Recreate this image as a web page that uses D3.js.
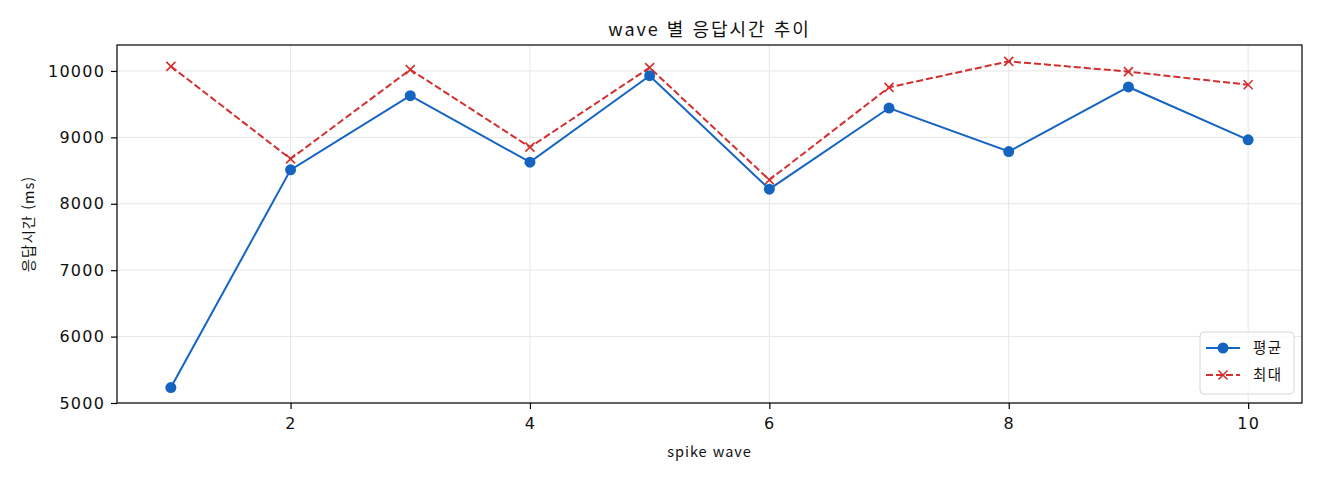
<!DOCTYPE html>
<html lang="ko">
  <head>
    <meta charset="UTF-8" />
    <title>wave 별 응답시간 추이</title>
    <script src="https://cdn.jsdelivr.net/npm/d3@7"></script>
    <style>
      html,
      body {
        margin: 0;
        padding: 0;
        background: #fff;
      }
      svg {
        display: block;
        font-family: 'Noto Sans CJK KR', 'Noto Sans', sans-serif;
      }
    </style>
  </head>
  <body>
    <svg width="1320" height="480"></svg>
    <script>
      // data
      const waves = [1, 2, 3, 4, 5, 6, 7, 8, 9, 10];
      const avgMs = [5232, 8511, 9627, 8627, 9929, 8220, 9442, 8787, 9759, 8963];
      const maxMs = [10070, 8677, 10020, 8853, 10050, 8360, 9753, 10145, 9990, 9793];
      const xTicks = [2, 4, 6, 8, 10];
      const yTicks = [5000, 6000, 7000, 8000, 9000, 10000];
      const seriesNames = ['평균', '최대'];

      const blue = '#1565c0';
      const red = '#d32f2f';
      const tickFont = "'DejaVu Sans', sans-serif";

      const margin = { top: 45, right: 18, bottom: 77, left: 117 };
      const width = 1320 - margin.left - margin.right;
      const height = 480 - margin.top - margin.bottom;

      const svg = d3.select('svg');
      const g = svg
        .append('g')
        .attr('transform', `translate(${margin.left},${margin.top})`);

      const x = d3.scaleLinear().domain([0.55, 10.45]).range([0, width]);
      const y = d3.scaleLinear().domain([5000, 10391]).range([height, 0]);

      // grid
      g.append('g')
        .selectAll('line')
        .data(xTicks)
        .enter()
        .append('line')
        .attr('x1', d => x(d))
        .attr('x2', d => x(d))
        .attr('y1', 0)
        .attr('y2', height)
        .attr('stroke', '#e6e6e6')
        .attr('stroke-width', 1);

      g.append('g')
        .selectAll('line')
        .data(yTicks)
        .enter()
        .append('line')
        .attr('x1', 0)
        .attr('x2', width)
        .attr('y1', d => y(d))
        .attr('y2', d => y(d))
        .attr('stroke', '#e6e6e6')
        .attr('stroke-width', 1);

      // axes
      const xAxis = d3.axisBottom(x).tickValues(xTicks).tickSize(6).tickPadding(9);
      const yAxis = d3
        .axisLeft(y)
        .tickValues(yTicks)
        .tickSize(6)
        .tickPadding(7)
        .tickFormat(d3.format('d'));

      const xg = g.append('g').attr('transform', `translate(0,${height})`).call(xAxis);
      const yg = g.append('g').call(yAxis);
      [xg, yg].forEach(a => {
        a.select('.domain').remove();
        a.selectAll('.tick line').attr('stroke', '#000').attr('stroke-width', 1.2);
        a.selectAll('.tick text')
          .attr('fill', '#111')
          .style('font-size', '16px')
          .style('letter-spacing', '1.3px')
          .style('font-family', tickFont);
      });
      yg.selectAll('.tick text').attr('dx', '1.3px');

      // frame
      g.append('rect')
        .attr('width', width)
        .attr('height', height)
        .attr('fill', 'none')
        .attr('stroke', '#000')
        .attr('stroke-width', 1.2);

      const line = d3
        .line()
        .x((d, i) => x(waves[i]))
        .y(d => y(d));

      // max series (dashed, x markers)
      g.append('path')
        .datum(maxMs)
        .attr('d', line)
        .attr('fill', 'none')
        .attr('stroke', red)
        .attr('stroke-width', 2)
        .attr('stroke-dasharray', '7,3');

      const xMark = 4.5;
      const xPath = `M${-xMark},${-xMark}L${xMark},${xMark}M${-xMark},${xMark}L${xMark},${-xMark}`;
      g.append('g')
        .selectAll('path')
        .data(maxMs)
        .enter()
        .append('path')
        .attr('transform', (d, i) => `translate(${x(waves[i])},${y(d)})`)
        .attr('d', xPath)
        .attr('stroke', red)
        .attr('stroke-width', 1.6);

      // avg series (solid, circle markers)
      g.append('path')
        .datum(avgMs)
        .attr('d', line)
        .attr('fill', 'none')
        .attr('stroke', blue)
        .attr('stroke-width', 2);

      g.append('g')
        .selectAll('circle')
        .data(avgMs)
        .enter()
        .append('circle')
        .attr('cx', (d, i) => x(waves[i]))
        .attr('cy', d => y(d))
        .attr('r', 5.5)
        .attr('fill', blue);

      // title and labels
      svg.append('text')
        .attr('x', margin.left + width / 2)
        .attr('y', 36)
        .attr('text-anchor', 'middle')
        .style('font-size', '18px')
        .style('letter-spacing', '2px')
        .attr('fill', '#111')
        .text('wave 별 응답시간 추이');

      svg.append('text')
        .attr('x', margin.left + width / 2)
        .attr('y', 457)
        .attr('text-anchor', 'middle')
        .style('font-size', '14.5px')
        .style('letter-spacing', '1px')
        .attr('fill', '#111')
        .text('spike wave');

      svg.append('text')
        .attr('transform', `translate(34,${margin.top + height / 2}) rotate(-90)`)
        .attr('text-anchor', 'middle')
        .style('font-size', '14.5px')
        .style('letter-spacing', '1px')
        .attr('fill', '#111')
        .text('응답시간 (ms)');

      // legend
      const lg = svg.append('g').attr('transform', 'translate(1200,332)');
      lg.append('rect')
        .attr('width', 94)
        .attr('height', 62)
        .attr('rx', 4)
        .attr('fill', '#fff')
        .attr('fill-opacity', 0.8)
        .attr('stroke', '#d6d6d6');

      seriesNames.forEach((name, i) => {
        const yy = 16 + i * 27;
        const col = i === 0 ? blue : red;
        lg.append('line')
          .attr('x1', 6)
          .attr('x2', 40)
          .attr('y1', yy)
          .attr('y2', yy)
          .attr('stroke', col)
          .attr('stroke-width', 2)
          .attr('stroke-dasharray', i === 0 ? null : '7,3');
        if (i === 0) {
          lg.append('circle').attr('cx', 23).attr('cy', yy).attr('r', 5.5).attr('fill', col);
        } else {
          lg.append('path')
            .attr('transform', `translate(23,${yy})`)
            .attr('d', xPath)
            .attr('stroke', col)
            .attr('stroke-width', 1.6);
        }
        lg.append('text')
          .attr('x', 53)
          .attr('y', yy + 5)
          .style('font-size', '14.5px')
          .style('letter-spacing', '1.5px')
          .attr('fill', '#111')
          .text(name);
      });
    </script>
  </body>
</html>
